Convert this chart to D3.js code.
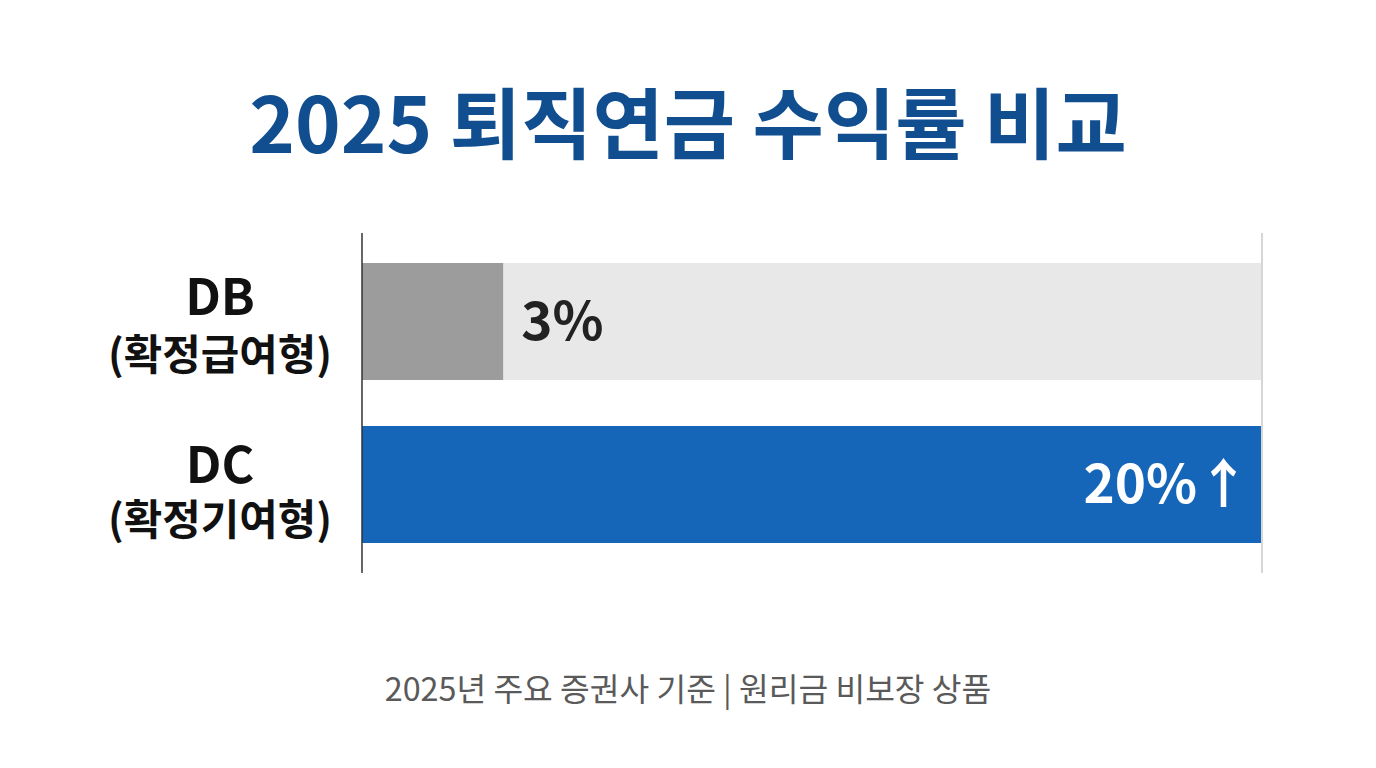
<!DOCTYPE html>
<html>
<head>
<meta charset="utf-8">
<script src="https://cdn.jsdelivr.net/npm/d3@7"></script>
<style>
html, body { margin: 0; padding: 0; background: #fff; }
svg { display: block; }
text { font-family: "Noto Sans CJK KR", "Noto Sans", sans-serif; }
</style>
</head>
<body>
<script>
const titleText = '2025 퇴직연금 수익률 비교';
const footText = '2025년 주요 증권사 기준 | 원리금 비보장 상품';
const categories = ['DB', 'DC'];
const subLabels = ['(확정급여형)', '(확정기여형)'];
// drawn bar lengths, the DB bar is a bit longer than its 3% label
const values = [3.14, 20];
const valueLabels = ['3%', '20%↑'];
const barColors = ['#9c9c9c', '#1565b8'];
const axisMax = 20;

const svg = d3.select('body').append('svg')
    .attr('width', 1376)
    .attr('height', 768);

const x = d3.scaleLinear().domain([0, axisMax]).range([362, 1261]);
const y = d3.scaleBand().domain(categories).range([263, 543]).paddingInner(0.2822).paddingOuter(0);

svg.append('text')
    .attr('x', 688).attr('y', 153)
    .attr('text-anchor', 'middle')
    .attr('font-size', 77.5).attr('font-weight', 700)
    .attr('fill', '#114e90')
    .text(titleText);

// background tracks, only the DB row shows it
svg.selectAll('rect.track')
    .data(categories)
    .enter().append('rect')
    .attr('class', 'track')
    .attr('x', x(0))
    .attr('y', d => y(d))
    .attr('width', x(axisMax) - x(0))
    .attr('height', y.bandwidth())
    .attr('fill', '#e8e8e8');

svg.selectAll('rect.bar')
    .data(values)
    .enter().append('rect')
    .attr('class', 'bar')
    .attr('x', x(0))
    .attr('y', (d, i) => y(categories[i]))
    .attr('width', d => x(d) - x(0))
    .attr('height', y.bandwidth())
    .attr('fill', (d, i) => barColors[i]);

// left and right rules
svg.append('line')
    .attr('x1', x(0)).attr('x2', x(0)).attr('y1', 233).attr('y2', 573)
    .attr('stroke', '#333').attr('stroke-width', 1.5);
svg.append('line')
    .attr('x1', x(axisMax) + 1).attr('x2', x(axisMax) + 1).attr('y1', 233).attr('y2', 573)
    .attr('stroke', '#c8c8c8').attr('stroke-width', 1.5);

// category labels
categories.forEach((c, i) => {
    const mid = y(c) + y.bandwidth() / 2;
    svg.append('text')
        .attr('x', 220).attr('y', mid - 6.5 + i * 5)
        .attr('text-anchor', 'middle')
        .attr('font-size', 50).attr('font-weight', 700).attr('fill', '#111')
        .text(c);
    svg.append('text')
        .attr('x', 220).attr('y', mid + 48 + i * 3)
        .attr('text-anchor', 'middle')
        .attr('font-size', 41.8).attr('font-weight', 700).attr('fill', '#111')
        .text(subLabels[i]);
});

// value labels
svg.append('text')
    .attr('x', x(values[0]) + 18).attr('y', y(categories[0]) + y.bandwidth() / 2 + 18.5)
    .attr('font-size', 53).attr('font-weight', 700).attr('fill', '#222')
    .text(valueLabels[0]);
svg.append('text')
    .attr('x', x(values[1]) - 11).attr('y', y(categories[1]) + y.bandwidth() / 2 + 18.5)
    .attr('text-anchor', 'end')
    .attr('font-size', 53).attr('font-weight', 700).attr('fill', '#fff')
    .text(valueLabels[1]);

svg.append('text')
    .attr('x', 688).attr('y', 701)
    .attr('text-anchor', 'middle')
    .attr('font-size', 32.3).attr('fill', '#5a5a5a')
    .text(footText);
</script>
</body>
</html>
